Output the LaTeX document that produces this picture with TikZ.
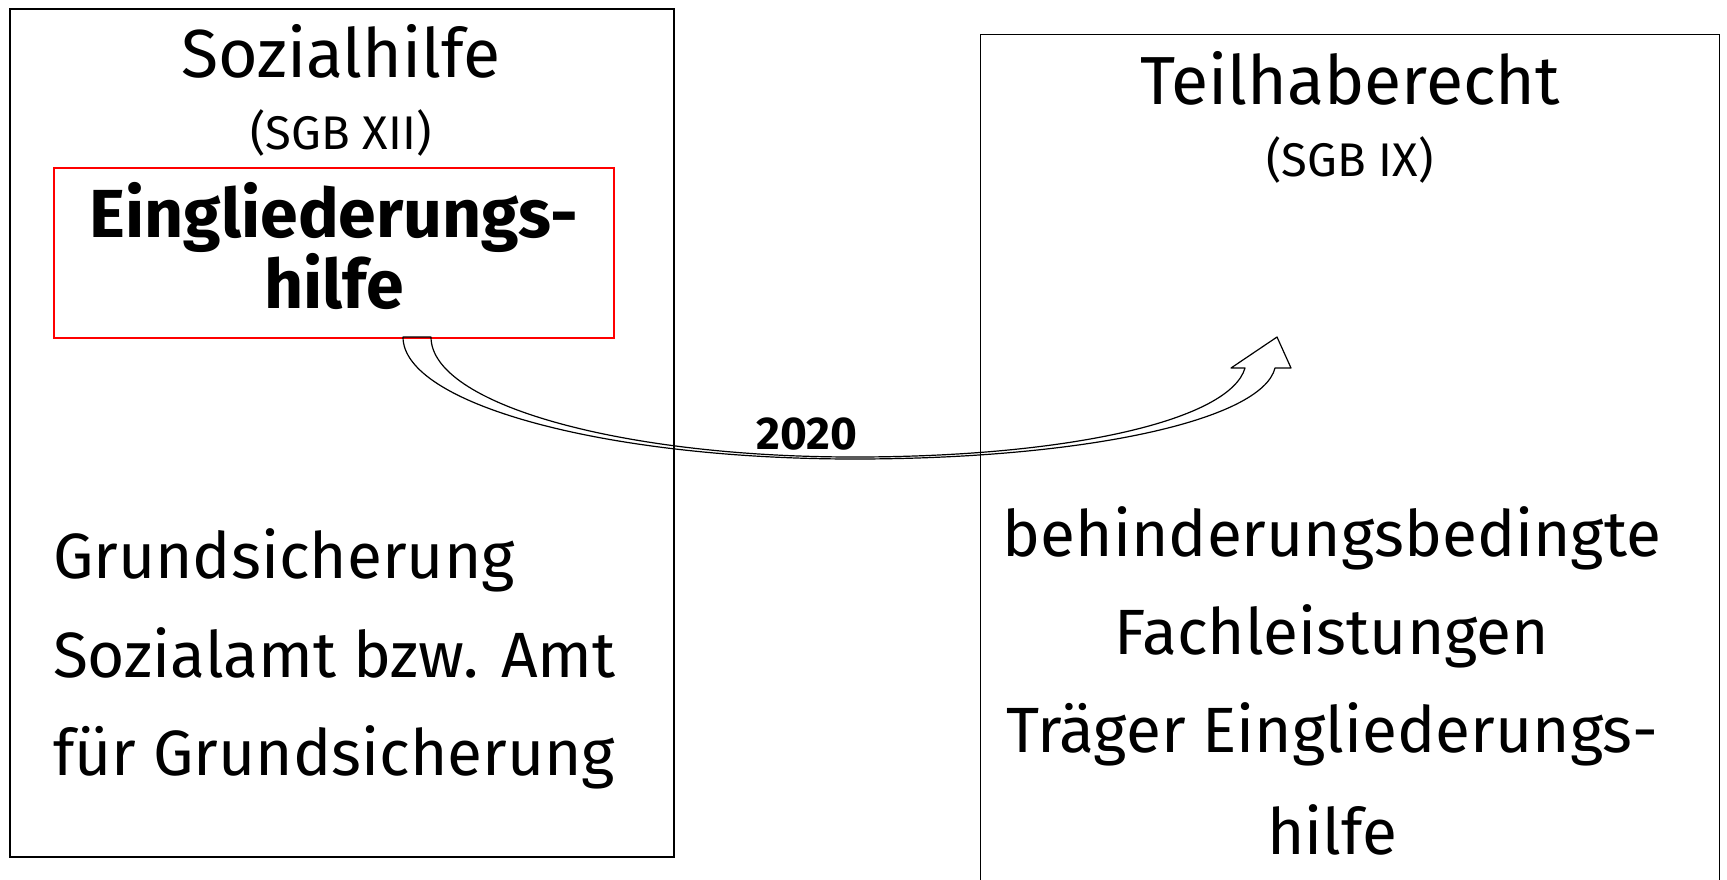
\documentclass[tikz,border=0pt]{standalone}
\usepackage{fontspec}
\setmainfont{Fira Sans}
\usetikzlibrary{positioning}
\tikzset{
  rahmen/.style={draw, inner sep=0pt, anchor=north west},
  titel/.style={anchor=base, font=\fontsize{34}{38}\selectfont},
  gesetz/.style={anchor=base, font=\fontsize{23.6}{26}\selectfont},
  zeile/.style={anchor=base, font=\fontsize{32}{36}\selectfont},
  fett/.style={anchor=base, font=\fontsize{34}{38}\selectfont\bfseries},
}
\begin{document}
\begin{tikzpicture}[x=0.5pt,y=-0.5pt]
  \clip (0,0) rectangle (1727,879);
  \node[name=sh, rahmen, line width=0.8pt, minimum width=332pt, minimum height=424pt] at (9,8) {};
  \node[name=th, rahmen, line width=0.6pt, minimum width=369.5pt, minimum height=440pt] at (980,34) {};
  \node[name=eh, rahmen, red, line width=0.8pt, minimum width=280pt, minimum height=85pt] at (53,167) {};
  \node[name=t1, titel] at (341,77) {Sozialhilfe};
  \node[name=g1, gesetz] at (341,149) {(SGB XII)};
  \node[name=e1, fett] at (334,237) {Eingliederungs-};
  \node[name=e2, fett] at (334,308) {hilfe};
  \node[name=l1, zeile, anchor=base west] at (46,578) {Grundsicherung};
  \node[name=l2, zeile, anchor=base west] at (46,677) {Sozialamt bzw. Amt};
  \node[name=l3, zeile, anchor=base west] at (46,775) {für Grundsicherung};
  \node[name=t2, titel] at (1350,104) {Teilhaberecht};
  \node[name=g2, gesetz] at (1350,176) {(SGB IX)};
  \node[name=r1, zeile] at (1332,556) {behinderungsbedingte};
  \node[name=r2, zeile] at (1332,654) {Fachleistungen};
  \node[name=r3, zeile] at (1332,752) {Träger Eingliederungs-};
  \node[name=r4, zeile] at (1332,854) {hilfe};
  \node[name=jahr, anchor=base, font=\fontsize{23}{26}\selectfont\bfseries] at (807,449) {2020};
  \draw[line width=0.6pt, line join=round] (403,337) .. controls (403,404) and (605,459) .. (854,459)
    .. controls (1086,459) and (1262,420) .. (1275,368) -- (1291,368) -- (1277,337) -- (1231,368) -- (1245,368)
    .. controls (1230,420) and (1070,457) .. (854,457)
    .. controls (620,457) and (431,404) .. (431,337) -- cycle;
\end{tikzpicture}
\end{document}
